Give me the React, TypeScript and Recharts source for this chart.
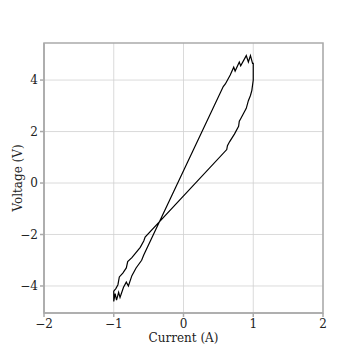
import { CartesianGrid, Label, Line, LineChart, ReferenceArea, XAxis, YAxis } from 'recharts'

// current (A) and voltage (V) along the loop, in drawing order
const current = [
	-1.0, -0.98, -0.96, -0.93, -0.91, -0.86, -0.82, -0.79, -0.74, -0.68, -0.6, -0.57,
	0.57, 0.6, 0.67, 0.72, 0.74, 0.8, 0.82, 0.9, 0.93, 0.96, 0.99, 1.0, 1.0,
	0.98, 0.96, 0.93, 0.9, 0.86, 0.82, 0.8, 0.79, 0.73, 0.66, 0.63, 0.62,
	-0.55, -0.57, -0.62, -0.74, -0.8, -0.82, -0.87, -0.92, -0.94, -0.97, -1.0, -1.0,
]
const voltage = [
	-4.6, -4.3, -4.55, -4.25, -4.45, -4.05, -3.85, -4.0, -3.6, -3.3, -3.0, -2.8,
	3.75, 3.85, 4.2, 4.5, 4.35, 4.7, 4.55, 4.95, 4.7, 4.95, 4.65, 4.65, 4.0,
	3.6, 3.4, 3.2, 2.9, 2.7, 2.5, 2.4, 2.2, 1.9, 1.6, 1.45, 1.3,
	-2.1, -2.25, -2.5, -2.9, -3.05, -3.3, -3.5, -3.65, -3.95, -4.1, -4.2, -4.6,
]
const xTicks = [-2, -1, 0, 1, 2]
const yTicks = [-4, -2, 0, 2, 4]

const data = current.map((c, i) => ({ current: c, voltage: voltage[i] }))

const fmt = (v: number) => String(v).replace('-', '\u2212')
const font = "'DejaVu Serif', serif"
const tickStyle = { fontSize: 12, fill: '#222', fontFamily: font }

export default function App() {
	return (
		<LineChart width={352} height={352} data={data} margin={{ top: 35, right: 37, left: 0, bottom: 0 }}>
			<CartesianGrid stroke='#d0d0d0' strokeWidth={0.8} horizontalValues={yTicks} verticalValues={xTicks} />
			<XAxis
				type='number'
				dataKey='current'
				domain={[-2, 2]}
				ticks={xTicks}
				tickFormatter={fmt}
				height={47}
				stroke='#aaaaaa'
				strokeWidth={1.5}
				tickSize={4}
				tick={tickStyle}
			>
				<Label value='Current (A)' position='insideBottom' offset={18} style={{ fontSize: 12, fill: '#222', fontFamily: font }} />
			</XAxis>
			<YAxis
				type='number'
				dataKey='voltage'
				domain={[-5.05, 5.44]}
				ticks={yTicks}
				tickFormatter={fmt}
				width={36}
				stroke='#aaaaaa'
				strokeWidth={1.5}
				tickSize={4}
				tick={tickStyle}
				allowDataOverflow
			>
				<Label value='Voltage (V)' angle={-90} position='insideLeft' offset={10} style={{ fontSize: 12, fill: '#222', fontFamily: font, textAnchor: 'middle' }} />
			</YAxis>
			<ReferenceArea x1={-2} x2={2} y1={-5.05} y2={5.44} fill='none' stroke='#aaaaaa' strokeWidth={1.5} />
			<Line type='linear' dataKey='voltage' stroke='#000' strokeWidth={1.2} dot={false} isAnimationActive={false} />
		</LineChart>
	)
}
